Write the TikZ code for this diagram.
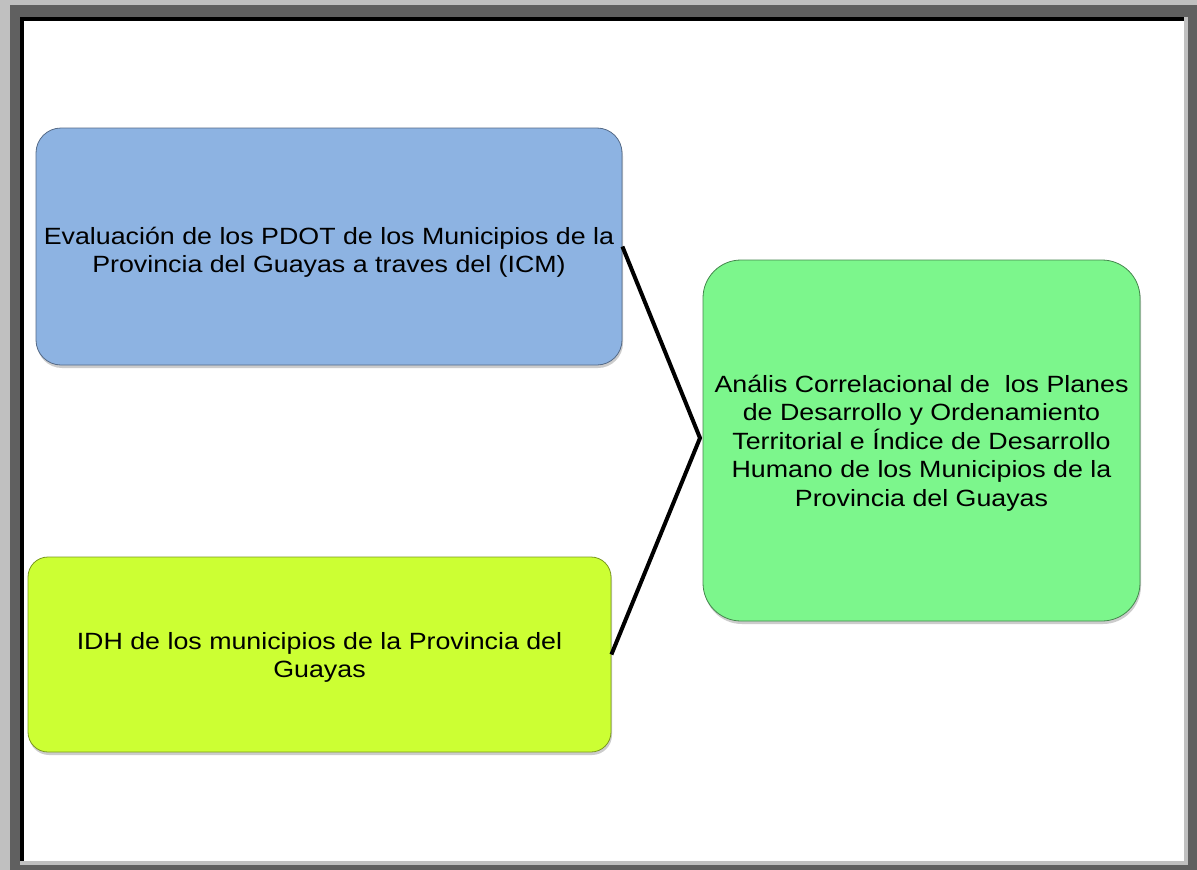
\documentclass[tikz,border=0pt]{standalone}
\usepackage{fontspec}
\setmainfont{Liberation Sans}
\newfontfamily\boxfont{Liberation Sans}[FakeStretch=1.14]
\usetikzlibrary{shadows}
\definecolor{bbox}{HTML}{8DB3E2}
\definecolor{ybox}{HTML}{CCFF33}
\definecolor{gbox}{HTML}{7CF68C}
\definecolor{lgray}{HTML}{C0C0C0}
\definecolor{dgray}{HTML}{606060}
\tikzset{
  card/.style={rectangle, line width=0.8pt,
    drop shadow={shadow xshift=1pt, shadow yshift=-3pt, opacity=0.4}},
  cardtext/.style={align=center, inner sep=0pt,
    font=\boxfont\fontsize{23.5}{28.5}\selectfont, text=black},
  link/.style={line width=4pt, line join=miter, draw=black}
}
\begin{document}
\begin{tikzpicture}[x=1pt,y=-1pt]
\useasboundingbox (0,0) rectangle (1197,870);
% page frame
\fill[lgray] (0,0) rectangle (1197,870);
\fill[dgray] (10,5) rectangle (1197,870);
\fill[lgray] (20,17) rectangle (1188,865);
\fill[black] (20,17) rectangle (1184,861);
\fill[white] (24,21) rectangle (1184,861);
% boxes
\node[card, fill=bbox, draw=bbox!60!black, rounded corners=25pt,
  minimum width=586pt, minimum height=237pt] (eval) at (329,246.5) {};
\node[cardtext] (evalt) at (329,252.5)
  {Evaluación de los PDOT de los Municipios de la\\Provincia del Guayas a traves del (ICM)};
\node[card, fill=ybox, draw=ybox!60!black, rounded corners=20pt,
  minimum width=583pt, minimum height=195pt] (idh) at (319.5,654.5) {};
\node[cardtext] (idht) at (319.5,657.5)
  {IDH de los municipios de la Provincia del\\Guayas};
\node[card, fill=gbox, draw=gbox!55!black, rounded corners=38pt,
  minimum width=437pt, minimum height=361pt] (anal) at (921.5,440.5) {};
\node[cardtext] (analt) at (921.5,443)
  {Anális Correlacional de \ los Planes\\de Desarrollo y Ordenamiento\\Territorial e Índice de Desarrollo\\Humano de los Municipios de la\\Provincia del Guayas};
% connector
\coordinate (j) at (700,438);
\draw[link] (eval.east) -- (j) -- (idh.east);
\end{tikzpicture}
\end{document}
